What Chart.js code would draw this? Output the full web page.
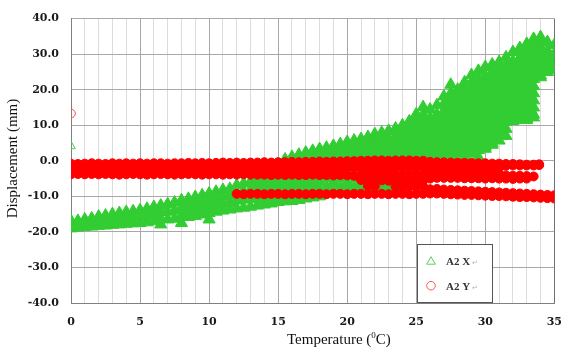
<!DOCTYPE html>
<html>
<head>
<meta charset="utf-8">
<script src="https://cdn.jsdelivr.net/npm/chart.js@4.4.0/dist/chart.umd.min.js"></script>
<style>
  html, body { margin: 0; padding: 0; background: #fff; }
  canvas { display: block; }
</style>
</head>
<body>
<canvas id="chart" width="575" height="350"></canvas>
<script>
// readings as columns: [temperature, displacement, displacement, ...]
var xTicks = [0, 5, 10, 15, 20, 25, 30, 35];
var yTicks = [-40, -30, -20, -10, 0, 10, 20, 30, 40];
var seriesNames = ['A2 X', 'A2 Y'];

// A2 X (green triangles)
var greenLow = [
  [0, -19.0, -17.9, -16.9], [0.5, -18.8, -17.6, -16.9], [1, -18.6, -17.4, -16.5],
  [1.5, -18.5, -17.2, -16.2], [2, -18.3, -17.0, -15.7], [2.5, -18.2, -16.8, -15.4],
  [3, -18.0, -16.5, -15.0], [3.5, -17.9, -16.3, -14.7], [4, -17.7, -16.0, -14.4],
  [4.5, -17.6, -15.9, -14.2], [5, -17.5, -15.7, -13.9], [5.5, -17.3, -15.4, -13.5],
  [6, -17.0, -15.0, -13.0], [6.5, -17.9, -16.2, -14.4, -12.6], [7, -16.5, -14.3, -12.2],
  [7.5, -16.3, -14.0, -11.7], [8, -17.5, -15.4, -13.2, -11.1], [8.5, -15.8, -14.1, -12.4, -10.7],
  [9, -15.5, -13.7, -12.0, -10.2], [9.5, -15.1, -13.3, -11.5, -9.7],
  [10, -16.5, -14.7, -12.9, -11.0, -9.2], [10.5, -14.3, -12.4, -10.6, -8.7],
  [11, -14.0, -12.1, -10.1, -8.2], [11.5, -13.7, -11.8, -9.8, -7.9],
  [12, -13.4, -11.2, -9.1, -6.9], [12.5, -13.2, -10.9, -8.6, -6.4],
  [13, -12.9, -10.6, -8.3, -5.9], [13.5, -12.6, -10.7, -8.8, -6.8, -4.9]
];
var greenMid = [
  [14, -12.3, -10, -8, -6, -3.9],
  [14.5, -12.0, -11, -9, -7, -5, -2.4],
  [15, -11.6, -10, -8, -6, -4, -2, -0.9],
  [15.5, -11.4, -9, -7, -5, -3, -1, 0.4],
  [16, -11.3, -10, -8, -6, -4, -2, 0, 1.1],
  [16.5, -11.0, -9, -7, -5, -3, -1, 1, 1.7],
  [17, -10.6, -8, -6, -4, -2, 0, 2.3],
  [17.5, -10.3, -9, -7, -5, -3, -1, 1, 2.8],
  [18, -10.0, -8, -6, -4, -2, 0, 2, 3.3],
  [18.5, -7.5, -5, -3, -1, 1, 3, 3.7],
  [19, -7.5, -6, -4, -2, 0, 2, 4.2],
  [19.5, -7.5, -5, -3, -1, 1, 3, 4.7],
  [20, -7.5, -6, -4, -2, 0, 2, 4, 5.3],
  [20.5, -7.5, -5, -3, -1, 1, 3, 5, 5.7],
  [21, -7.5, -6, -4, -2, 0, 2, 4, 6.1],
  [21.5, -7.5, -5, -3, -1, 1, 3, 5, 6.7],
  [22, -7.5, -6, -4, -2, 0, 2, 4, 6, 7.5],
  [22.5, -7.5, -5, -3, -1, 1, 3, 5, 7, 7.9],
  [23, -7.5, -6, -4, -2, 0, 2, 4, 6, 8.4],
  [23.5, 1, 3, 5, 7, 9.1],
  [24, 2, 4, 6, 8, 10.0],
  [24.5, 1, 3, 5, 7, 9, 11.1],
  [25, 2, 4, 6, 8, 10, 12, 13.1],
  [25.5, 1, 3, 5, 7, 9, 11, 13, 15.1],
  [26, 2, 4, 6, 8, 10, 12, 14.4],
  [26.5, 1, 3, 5, 7, 9, 11, 13, 15.6]
];
var greenHigh = [
  [27, 2, 4, 6, 8, 10, 12, 14, 16, 18.1],
  [27.5, 1, 3, 5, 7, 9, 11, 13, 15, 17, 19, 21.4],
  [28, 2, 4, 6, 8, 10, 12, 14, 16, 18, 20.0],
  [28.5, 1, 3, 5, 7, 9, 11, 13, 15, 17, 19, 21, 22.1],
  [29, 2, 4, 6, 8, 10, 12, 14, 16, 18, 20, 22, 24.1],
  [29.5, 1, 3, 5, 7, 9, 11, 13, 15, 17, 19, 21, 23, 25.3],
  [30, 3.4, 4, 6, 8, 10, 12, 14, 16, 18, 20, 22, 24, 26.4],
  [30.5, 4.5, 5, 7, 9, 11, 13, 15, 17, 19, 21, 23, 25, 27.1],
  [31, 5.7, 8, 10, 12, 14, 16, 18, 20, 22, 24, 26, 27.8],
  [31.5, 7.0, 9, 11, 13, 15, 17, 19, 21, 23, 25, 27, 29.1],
  [32, 11.2, 12, 14, 16, 18, 20, 22, 24, 26, 28, 30.6],
  [32.5, 11.5, 13, 15, 17, 19, 21, 23, 25, 27, 29, 31, 31.7],
  [33, 11.5, 12, 14, 16, 18, 20, 22, 24, 26, 28, 30, 32, 32.9],
  [33.5, 12.2, 13, 15, 17, 19, 21, 23, 25, 27, 29, 31, 33, 34.3],
  [34, 23.5, 24, 26, 28, 30, 32, 34, 34.8],
  [34.5, 25.0, 27, 29, 31, 33.4],
  [35, 25.6, 26, 28, 30, 32.6]
];
var greenStray = [[0, 4.1]];

// A2 Y (red circles)
var redMain = [
  [0, -0.8, -2.3, -3.8], [0.5, -0.9, -2.2, -3.7], [1, -0.8, -2.4, -3.8], [1.5, -0.7, -2.3, -3.7],
  [2, -0.8, -2.2, -3.8], [2.5, -0.9, -2.3, -3.7], [3, -0.7, -2.2, -3.8], [3.5, -0.8, -2.4, -3.9],
  [4, -0.7, -2.3, -3.8], [4.5, -0.8, -2.2, -3.7], [5, -0.7, -2.3, -3.8], [5.5, -0.8, -2.4, -3.9],
  [6, -0.7, -2.2, -3.8], [6.5, -0.7, -2.3, -3.7], [7, -0.8, -2.2, -3.8], [7.5, -0.7, -2.3, -3.9],
  [8, -0.7, -2.2, -3.8], [8.5, -0.6, -2.3, -3.7], [9, -0.7, -2.2, -3.8], [9.5, -0.6, -2.3, -3.9],
  [10, -0.7, -2.2, -3.8], [10.5, -0.6, -2.3, -3.8], [11, -0.5, -2.2, -3.9], [11.5, -0.6, -2.3, -3.8],
  [12, -0.5, -2.2, -3.9], [12.5, -0.6, -2.3, -3.8], [13, -0.5, -2.2, -3.9], [13.5, -0.5, -2.3, -3.9],
  [14, -0.4, -2.2, -3.9], [14.5, -0.5, -2.3, -4.0], [15, -0.4, -2.2, -3.9], [15.5, -0.4, -2.3, -4.0],
  [16, -0.3, -2.2, -3.9], [16.5, -0.4, -2.3, -4.0], [17, -0.3, -2.2, -4.0], [17.5, -0.3, -2.1, -3.9],
  [18, -0.2, -2.2, -4.0], [18.5, -0.3, -2.1, -4.0], [19, -0.2, -2.2, -4.1], [19.5, -0.2, -2.1, -4.0],
  [20, -0.1, -2.0, -4.1], [20.5, -0.1, -2.0, -4.2], [21, 0.0, -1.9, -4.0, -5.4],
  [21.5, 0.0, -1.9, -3.9, -5.6, -7.1], [22, 0.1, -1.8, -3.8, -5.6, -7.2], [22.5, 0.1, -1.8, -3.8, -5.5],
  [23, 0.0, -1.9, -3.9, -5.6], [23.5, 0.1, -1.8, -3.8, -5.6, -7.3], [24, 0.1, -1.8, -3.9, -5.7, -7.4],
  [24.5, 0.1, -1.9, -3.8, -5.6, -7.3], [25, 0.0, -1.8, -3.8, -5.7, -7.4], [25.5, 0.0, -1.9, -3.9, -5.6, -7.2],
  [26, -0.3, -1.9, -3.8, -5.0], [26.5, -0.4, -2.0, -3.8, -4.8], [27, -0.4, -1.9, -3.7, -4.8],
  [27.5, -0.5, -2.0, -3.8, -4.8], [28, -0.5, -2.0, -3.7, -4.8], [28.5, -0.6, -2.1, -3.8, -4.9],
  [29, -0.6, -2.0, -3.7, -4.9], [29.5, -0.7, -2.1, -3.8, -4.9], [30, -0.7, -2.0, -3.8, -5.0],
  [30.5, -0.8, -2.1, -3.7, -4.9], [31, -0.8, -2.0, -3.8, -5.0], [31.5, -0.9, -1.4, -4.1, -5.0],
  [32, -0.9, -1.3, -4.2, -5.1], [32.5, -1.0, -1.3, -4.2, -5.0], [33, -1.1, -1.3, -4.3, -5.0],
  [33.5, -1.1, -1.3, -4.4], [33.9, -1.2, -1.0]
];
var redLow = [
  [12, -9.3], [12.5, -9.4], [13, -9.3], [13.5, -9.3], [14, -9.4], [14.5, -9.3], [15, -9.3],
  [15.5, -9.4], [16, -9.3], [16.5, -9.3], [17, -9.4], [17.5, -9.3], [18, -9.3], [18.5, -9.4],
  [19, -9.3], [19.5, -9.3], [20, -9.4], [20.5, -9.3], [21, -9.3], [21.5, -9.4], [22, -9.3],
  [22.5, -9.3], [23, -9.4], [23.5, -9.3], [24, -9.3], [24.5, -9.4], [25, -9.3], [25.5, -9.3],
  [26, -8.0, -9.2], [26.5, -7.9, -9.2], [27, -8.1, -9.3], [27.5, -8.2, -9.4], [28, -8.3, -9.5],
  [28.5, -8.4, -9.6], [29, -8.5, -9.6], [29.5, -8.6, -9.7], [30, -8.7, -9.8], [30.5, -8.8, -9.9],
  [31, -8.9, -9.9], [31.5, -9.0, -10.0], [32, -9.1, -10.1], [32.5, -9.2, -10.2], [33, -9.3, -10.2],
  [33.5, -9.4, -10.3], [34, -9.5, -10.4], [34.5, -9.6, -10.5], [35, -9.7, -10.6]
];
var redStray = [[0, 13.3]];

function toPoints() {
  var pts = [];
  for (var a = 0; a < arguments.length; a++) {
    arguments[a].forEach(function(col) {
      for (var i = 1; i < col.length; i++) pts.push({x: col[0], y: col[i]});
    });
  }
  return pts;
}

var GREEN = '#32cd32';
var RED = '#ff0000';
var serif = '"Liberation Serif", "Times New Roman", serif';
var tickFont = {family: '"DejaVu Serif", serif', size: 11, weight: 'bold'};

// axis titles and the boxed legend
var decor = {
  id: 'decor',
  afterDraw: function(chart) {
    var ctx = chart.ctx;
    ctx.save();
    ctx.fillStyle = '#111';
    ctx.font = '15px ' + serif;
    ctx.textBaseline = 'alphabetic';
    ctx.textAlign = 'left';
    var x = 287;
    ctx.fillText('Temperature (', x, 343.5);
    x += ctx.measureText('Temperature (').width;
    ctx.font = '9px ' + serif;
    ctx.fillText('0', x, 338);
    x += ctx.measureText('0').width;
    ctx.font = '15px ' + serif;
    ctx.fillText('C)', x, 343.5);

    ctx.save();
    ctx.translate(17.3, 158.5);
    ctx.rotate(-Math.PI / 2);
    ctx.textAlign = 'center';
    ctx.fillText('Displacement (mm)', 0, 0);
    ctx.restore();

    // legend
    ctx.fillStyle = '#fff';
    ctx.fillRect(417.5, 244.5, 75, 58);
    ctx.strokeStyle = '#555';
    ctx.lineWidth = 1;
    ctx.strokeRect(417.5, 244.5, 75, 58);

    ctx.fillStyle = 'rgba(0,0,0,0)';
    ctx.strokeStyle = '#5ccf5c';
    Chart.helpers.drawPoint(ctx, {pointStyle: 'triangle', radius: 5, rotation: 0, borderWidth: 1}, 431, 261.7);
    ctx.strokeStyle = '#ff5a5a';
    Chart.helpers.drawPoint(ctx, {pointStyle: 'circle', radius: 4.3, rotation: 0, borderWidth: 1}, 431, 285.7);

    ctx.fillStyle = '#333';
    ctx.font = 'bold 11px ' + serif;
    ctx.fillText(seriesNames[0], 446, 265);
    ctx.fillText(seriesNames[1], 446, 290);
    ctx.fillStyle = '#b0b0b0';
    ctx.font = '7px "DejaVu Sans"';
    ctx.fillText('\u21B5', 472, 265);
    ctx.fillText('\u21B5', 472, 290);
    ctx.restore();
  }
};

new Chart(document.getElementById('chart'), {
  type: 'scatter',
  data: {
    datasets: [
      {
        label: seriesNames[1], order: 0,
        data: toPoints(redMain, redLow),
        pointStyle: 'circle', pointRadius: 4.5, pointBorderWidth: 1,
        pointBackgroundColor: RED, pointBorderColor: RED
      },
      {
        label: seriesNames[1] + ' stray', order: 0,
        data: toPoints(redStray),
        pointStyle: 'circle', pointRadius: 4.3, pointBorderWidth: 1,
        pointBackgroundColor: 'rgba(0,0,0,0)', pointBorderColor: '#ff4040'
      },
      {
        label: seriesNames[0], order: 1,
        data: toPoints(greenLow, greenMid, greenHigh),
        pointStyle: 'triangle', pointRadius: 7, pointBorderWidth: 1,
        pointBackgroundColor: GREEN, pointBorderColor: GREEN
      },
      {
        label: seriesNames[0] + ' stray', order: 1,
        data: toPoints(greenStray),
        pointStyle: 'triangle', pointRadius: 5, pointBorderWidth: 1,
        pointBackgroundColor: 'rgba(0,0,0,0)', pointBorderColor: '#4ccf4c'
      }
    ]
  },
  options: {
    responsive: false,
    animation: false,
    devicePixelRatio: 1,
    events: [],
    layout: {padding: {top: 14, right: 9, left: 0, bottom: 0}},
    plugins: {legend: {display: false}, tooltip: {enabled: false}},
    scales: {
      x: {
        type: 'linear', min: xTicks[0], max: xTicks[xTicks.length - 1],
        afterFit: function(s) { s.height = 47; },
        border: {color: '#808080'},
        grid: {
          drawTicks: false,
          color: function(c) {
            if (c.tick.value === 35) return '#707070';
            return xTicks.indexOf(c.tick.value) >= 0 ? '#a8a8a8' : '#dcdcdc';
          }
        },
        ticks: {
          stepSize: 1, autoSkip: false, maxRotation: 0, padding: 13,
          color: '#1a1a1a', font: tickFont,
          callback: function(v) { return xTicks.indexOf(v) >= 0 ? String(v) : ''; }
        }
      },
      y: {
        type: 'linear', min: yTicks[0], max: yTicks[yTicks.length - 1],
        afterFit: function(s) { s.width = 71; },
        border: {color: '#808080'},
        grid: {drawTicks: false, color: '#a8a8a8'},
        ticks: {
          stepSize: 10, padding: 12, color: '#1a1a1a', font: tickFont,
          callback: function(v) { return v.toFixed(1); }
        }
      }
    }
  },
  plugins: [decor]
});
</script>
</body>
</html>
